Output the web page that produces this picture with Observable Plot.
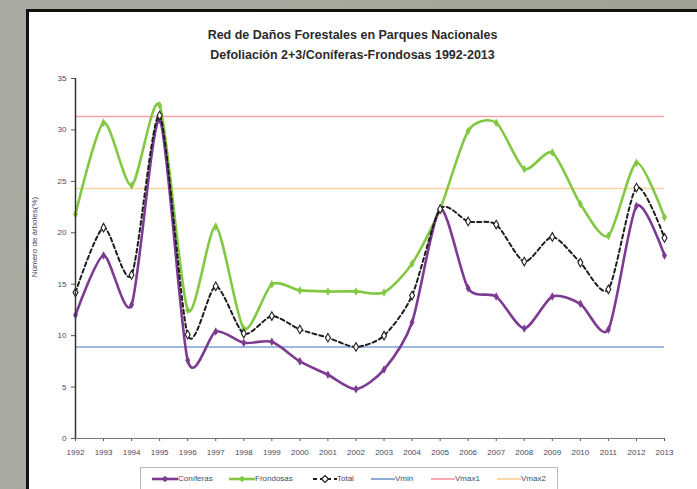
<!DOCTYPE html>
<html><head><meta charset="utf-8">
<script src="https://cdn.jsdelivr.net/npm/d3@7"></script>
<script src="https://cdn.jsdelivr.net/npm/@observablehq/plot@0.6"></script>
<style>
body{margin:0;background:#a8a99f;}
#wrap{position:relative;width:697px;height:489px;background:linear-gradient(90deg,#a9aaa1 0%,#a6a79d 50%,#9fa096 100%);overflow:hidden;font-family:"Liberation Sans Narrow","Arial Narrow","Liberation Sans",Arial,sans-serif;}
#panel{position:absolute;left:26px;top:9px;width:700px;height:500px;background:#fff;border-left:3px solid #111;border-top:3px solid #111;}
#chart{position:absolute;left:0;top:0;}
#title{position:absolute;left:0;width:705px;top:25px;text-align:center;font-weight:bold;font-size:12.5px;line-height:20px;color:#2b2b2b;}
#ylab{position:absolute;left:34px;top:237px;transform:translate(-50%,-50%) rotate(-90deg);font-size:8px;color:#3d4b6b;white-space:nowrap;}
#legend{position:absolute;left:140px;top:467px;width:418px;height:26px;border:1px solid #b8b8b8;box-sizing:border-box;}
.li{position:absolute;top:5px;height:12px;font-size:8px;color:#3d4b6b;line-height:12px;white-space:nowrap;}
.li svg{vertical-align:middle;}
</style></head>
<body>
<div id="wrap">
  <div id="panel"></div>
  <div id="chart"></div>
  <div id="title">Red de Daños Forestales en Parques Nacionales<br>Defoliación 2+3/Coníferas-Frondosas 1992-2013</div>
  <div id="ylab">Número de árboles(%)</div>
  <div id="legend"></div>
</div>
<script>
const years = [1992,1993,1994,1995,1996,1997,1998,1999,2000,2001,2002,2003,2004,2005,2006,2007,2008,2009,2010,2011,2012,2013];
const coniferas = [12.0,17.8,13.0,31.0,7.6,10.4,9.3,9.4,7.5,6.2,4.8,6.7,11.3,22.3,14.6,13.8,10.7,13.8,13.1,10.6,22.6,17.8];
const frondosas = [21.8,30.7,24.6,32.4,12.5,20.6,10.7,15.0,14.4,14.3,14.3,14.2,17.0,22.3,29.9,30.7,26.2,27.8,22.8,19.7,26.8,21.5];
const total = [14.2,20.5,15.9,31.4,10.1,14.8,10.2,11.9,10.6,9.8,8.9,10.0,13.9,22.3,21.1,20.8,17.2,19.6,17.1,14.5,24.4,19.5];
const vmin = 8.9, vmax1 = 31.3, vmax2 = 24.3;
const yTicks = [0,5,10,15,20,25,30,35];
const seriesNames = ["Coníferas","Frondosas","Total","Vmin","Vmax1","Vmax2"];
const colors = {"Coníferas":"#7d3a93","Frondosas":"#83c842","Total":"#1e1e1e","Vmin":"#7fa2d6","Vmax1":"#f5a3a8","Vmax2":"#fbd49e"};

const rows = s => years.map((y,i)=>({year:y, v:s[i]}));
const dC = rows(coniferas), dF = rows(frondosas), dT = rows(total);
const tickColor = "#3d4b6b";
const curve = {curve:"cardinal", tension:0.25};

const plot = Plot.plot({
  width: 697, height: 489,
  marginLeft: 75, marginRight: 33, marginTop: 78, marginBottom: 51,
  style: {background:"transparent", fontFamily:"'Liberation Sans Narrow','Arial Narrow','Liberation Sans',sans-serif", fontSize:"8px", overflow:"visible"},
  x: {domain:[1992,2013]},
  y: {domain:[0,35]},
  marks: [
    Plot.ruleY([vmin],{x1:1992,x2:2013,stroke:colors.Vmin,strokeWidth:1.5}),
    Plot.ruleY([vmax1],{x1:1992,x2:2013,stroke:colors.Vmax1,strokeWidth:1.5}),
    Plot.ruleY([vmax2],{x1:1992,x2:2013,stroke:colors.Vmax2,strokeWidth:1.5}),
    Plot.line(dF,{x:"year",y:"v",...curve,stroke:colors.Frondosas,strokeWidth:2.6}),
    Plot.dot(dF,{x:"year",y:"v",symbol:"diamond",r:2.6,fill:colors.Frondosas}),
    Plot.line(dC,{x:"year",y:"v",...curve,stroke:colors["Coníferas"],strokeWidth:2.6}),
    Plot.dot(dC,{x:"year",y:"v",symbol:"diamond",r:2.6,fill:colors["Coníferas"]}),
    Plot.line(dT,{x:"year",y:"v",...curve,stroke:colors.Total,strokeWidth:2,strokeDasharray:"4,3"}),
    Plot.dot(dT,{x:"year",y:"v",symbol:"diamond",r:2.6,fill:"#fff",stroke:colors.Total,strokeWidth:1.1}),
    Plot.axisY({ticks:yTicks,tickSize:4,tickPadding:5,label:null,stroke:"#555",color:tickColor}),
    Plot.axisX({ticks:years,tickSize:3,tickPadding:8,tickFormat:d3.format("d"),label:null,stroke:"#555",color:tickColor}),
    Plot.ruleY([0],{x1:1992,x2:2013,stroke:"#777",strokeWidth:1}),
    Plot.ruleX([1992],{y1:0,y2:35,stroke:"#333",strokeWidth:1.5})
  ]
});
document.getElementById("chart").appendChild(plot);

// legend
const legendPos = {"Coníferas":152,"Frondosas":229,"Total":313,"Vmin":371,"Vmax1":431,"Vmax2":497};
const lg = document.getElementById("legend");
for (const name of seriesNames) {
  const d = document.createElement("div");
  d.className = "li";
  d.style.left = (legendPos[name]-141)+"px";
  let sym;
  if (name==="Total") {
    sym = `<svg width="24" height="10"><line x1="0" y1="5" x2="24" y2="5" stroke="#1e1e1e" stroke-width="2" stroke-dasharray="4,3"/><path d="M12,1.5L15.5,5L12,8.5L8.5,5Z" fill="#fff" stroke="#1e1e1e" stroke-width="1.2"/></svg>`;
  } else if (name==="Coníferas" || name==="Frondosas") {
    sym = `<svg width="26" height="10"><line x1="0" y1="5" x2="26" y2="5" stroke="${colors[name]}" stroke-width="2.6"/><path d="M13,1.8L16.2,5L13,8.2L9.8,5Z" fill="${colors[name]}"/></svg>`;
  } else {
    sym = `<svg width="24" height="10"><line x1="0" y1="5" x2="24" y2="5" stroke="${colors[name]}" stroke-width="1.8"/></svg>`;
  }
  d.innerHTML = sym + name;
  lg.appendChild(d);
}
</script>
</body></html>
